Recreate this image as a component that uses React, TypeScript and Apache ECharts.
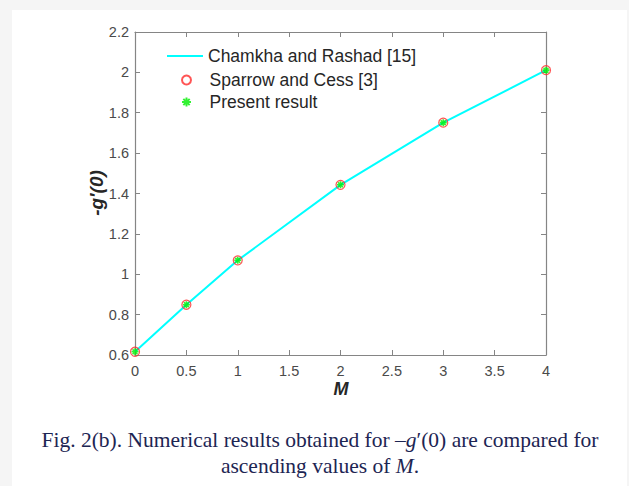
import React, { useEffect, useRef } from "react";
import * as echarts from "echarts";

const mValues = [0, 0.5, 1, 2, 3, 4];
const chamkhaRashad = [0.616, 0.849, 1.069, 1.443, 1.751, 2.011];
const sparrowCess = [0.616, 0.849, 1.069, 1.443, 1.751, 2.011];
const presentResult = [0.616, 0.849, 1.069, 1.443, 1.751, 2.011];
const seriesNames = ["Chamkha and Rashad [15]", "Sparrow and Cess [3]", "Present result"];

const asterisk =
  "path://M0,-1L0,1M-1,0L1,0M-0.7,-0.7L0.7,0.7M-0.7,0.7L0.7,-0.7";

const pairs = (ys: number[]) => mValues.map((x, i) => [x, ys[i]]);

export default function App() {
  const ref = useRef<HTMLDivElement>(null);
  useEffect(() => {
    if (!ref.current) return;
    const chart = echarts.init(ref.current, undefined, { renderer: "svg" });
    const axisCol = "#858585";
    const labelCol = "#4a4a4a";
    const font = "Liberation Sans, Arial, sans-serif";
    const serif = "Liberation Serif, Times New Roman, serif";
    const capCol = "#1d2553";
    const legendText = { fontFamily: font, fontSize: 17.5, color: "#262626" };
    const legendBase = {
      orient: "vertical",
      padding: 0,
      itemWidth: 36,
      itemGap: 0,
      textStyle: legendText,
      selectedMode: false,
    };
    const ticks = { inside: true, length: 5, lineStyle: { color: axisCol } };
    const line = { show: true, onZero: false, lineStyle: { color: axisCol, width: 1.2 } };
    const fmt = (v: number) => String(+v.toFixed(1));
    chart.setOption({
      animation: false,
      backgroundColor: "#f5f5f5",
      grid: { left: 135, right: 83, top: 32, bottom: 131, containLabel: false },
      legend: [
        { ...legendBase, left: 167, top: 47, itemHeight: 2, icon: "rect", data: [seriesNames[0]] },
        { ...legendBase, left: 181, top: 71, itemHeight: 9, data: [seriesNames[1]] },
        { ...legendBase, left: 181, top: 93, itemHeight: 9, data: [seriesNames[2]] },
      ],
      xAxis: [
        {
          type: "value",
          min: 0,
          max: 4,
          interval: 0.5,
          splitLine: { show: false },
          axisLine: line,
          axisTick: ticks,
          axisLabel: { color: labelCol, fontFamily: font, fontSize: 14.5, margin: 8, formatter: fmt },
        },
        {
          type: "value",
          position: "top",
          min: 0,
          max: 4,
          interval: 0.5,
          splitLine: { show: false },
          axisLine: line,
          axisTick: ticks,
          axisLabel: { show: false },
        },
      ],
      yAxis: [
        {
          type: "value",
          min: 0.6,
          max: 2.2,
          interval: 0.2,
          splitLine: { show: false },
          axisLine: line,
          axisTick: ticks,
          axisLabel: { color: labelCol, fontFamily: font, fontSize: 14.5, margin: 6, formatter: fmt },
        },
        {
          type: "value",
          position: "right",
          min: 0.6,
          max: 2.2,
          interval: 0.2,
          splitLine: { show: false },
          axisLine: line,
          axisTick: ticks,
          axisLabel: { show: false },
        },
      ],
      graphic: [
        {
          type: "rect",
          z: -10,
          silent: true,
          shape: { x: 12, y: 10, width: 615, height: 476 },
          style: { fill: "#ffffff" },
        },
        {
          type: "text",
          x: 96,
          y: 193,
          rotation: Math.PI / 2,
          style: {
            text: "-g'(0)",
            fontFamily: font,
            fontSize: 19,
            fontWeight: "bold",
            fontStyle: "italic",
            fill: "#262626",
            textAlign: "center",
            textVerticalAlign: "middle",
          },
        },
        {
          type: "text",
          x: 341,
          y: 389,
          style: {
            text: "M",
            fontFamily: font,
            fontSize: 18,
            fontWeight: "bold",
            fontStyle: "italic",
            fill: "#262626",
            textAlign: "center",
            textVerticalAlign: "middle",
          },
        },
        {
          type: "text",
          x: 320,
          y: 440,
          style: {
            text: "{n|Fig. 2(b). Numerical results obtained for \u2013}{i|g}{n|\u2032(0) are compared for}",
            textAlign: "center",
            textVerticalAlign: "middle",
            rich: {
              n: { fontFamily: serif, fontSize: 21.5, fill: capCol, color: capCol },
              i: { fontFamily: serif, fontSize: 21.5, fontStyle: "italic", fill: capCol, color: capCol },
            },
          },
        },
        {
          type: "text",
          x: 320,
          y: 466,
          style: {
            text: "{n|ascending values of }{i|M}{n|.}",
            textAlign: "center",
            textVerticalAlign: "middle",
            rich: {
              n: { fontFamily: serif, fontSize: 21.5, fill: capCol, color: capCol },
              i: { fontFamily: serif, fontSize: 21.5, fontStyle: "italic", fill: capCol, color: capCol },
            },
          },
        },
      ],
      series: [
        {
          name: seriesNames[0],
          type: "line",
          data: pairs(chamkhaRashad),
          showSymbol: false,
          symbol: "none",
          lineStyle: { color: "#00ffff", width: 2 },
          itemStyle: { color: "#00ffff" },
          z: 2,
        },
        {
          name: seriesNames[1],
          type: "scatter",
          data: pairs(sparrowCess),
          symbol: "circle",
          symbolSize: 9,
          itemStyle: { color: "rgba(0,0,0,0)", borderColor: "#ff2a2a", borderWidth: 1.2 },
          z: 3,
        },
        {
          name: seriesNames[2],
          type: "scatter",
          data: pairs(presentResult),
          symbol: asterisk,
          symbolSize: 7,
          itemStyle: { color: "#00ff00", borderColor: "#00ee00", borderWidth: 1.6 },
          z: 4,
        },
      ],
    });
    return () => chart.dispose();
  }, []);
  return (
    <div
      ref={ref}
      style={{ position: "fixed", left: 0, top: 0, width: 629, height: 486 }}
    />
  );
}
